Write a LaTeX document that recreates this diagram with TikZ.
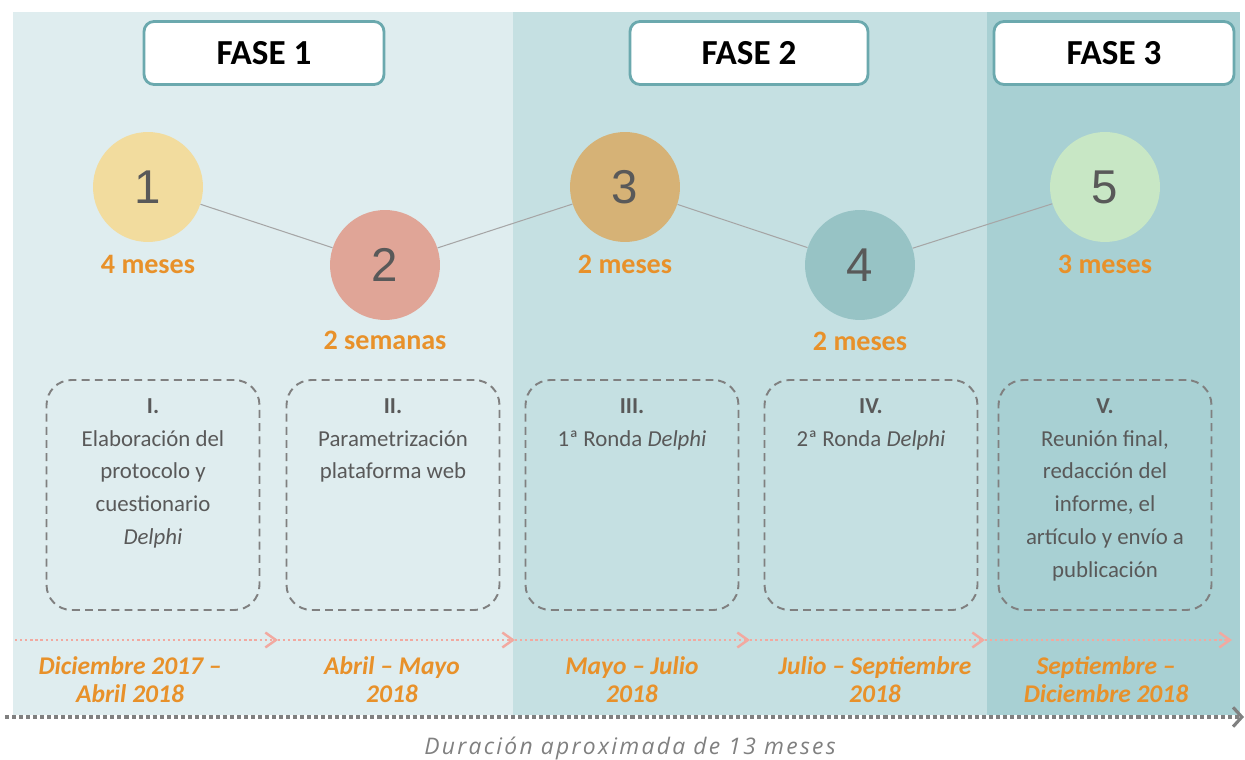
\documentclass[tikz,border=0pt]{standalone}
\usepackage{fontspec}
\setmainfont{Carlito}
\newfontfamily\durfont[LetterSpace=10]{Open Sans}
\newfontfamily\numfont{Liberation Sans}
\usetikzlibrary{arrows.meta,positioning}
\definecolor{panelone}{RGB}{223,237,239}
\definecolor{paneltwo}{RGB}{197,224,226}
\definecolor{panelthree}{RGB}{168,208,211}
\definecolor{faseborder}{RGB}{107,169,174}
\definecolor{circone}{RGB}{242,220,158}
\definecolor{circtwo}{RGB}{224,165,151}
\definecolor{circthree}{RGB}{214,178,118}
\definecolor{circfour}{RGB}{151,195,197}
\definecolor{circfive}{RGB}{200,231,197}
\definecolor{durorange}{RGB}{232,145,42}
\definecolor{textgray}{RGB}{89,89,89}
\definecolor{dashgray}{RGB}{128,128,128}
\definecolor{datepink}{RGB}{242,169,160}
\tikzstyle{fase}=[draw=faseborder,fill=white,line width=1.6pt,rounded corners=0.2cm,minimum width=4.8cm,minimum height=1.26cm,font=\fontsize{20}{24}\selectfont\bfseries]
\tikzstyle{circ}=[circle,minimum size=2.2cm,inner sep=0pt,text=textgray,font=\numfont\fontsize{27}{32}\selectfont]
\tikzstyle{dur}=[text=durorange,font=\fontsize{16}{19}\selectfont\bfseries,inner sep=0pt]
\tikzstyle{task}=[draw=dashgray,line width=1.1pt,dash pattern=on 4.5pt off 3pt,rounded corners=0.5cm,minimum width=4.26cm,minimum height=4.6cm]
\tikzstyle{tasktext}=[text=textgray,align=center,inner sep=0pt,font=\fontsize{13}{18.7}\selectfont]
\tikzstyle{date}=[text=durorange,align=center,inner sep=0pt,font=\fontsize{14.5}{16}\selectfont\bfseries\itshape]
\tikzstyle{link}=[draw=black!35,line width=0.6pt]
\tikzstyle{period}=[draw=datepink,line width=1.3pt,dash pattern=on 1.3pt off 1.6pt,-{Straight Barb[length=6pt,width=8.5pt,line width=1.4pt]}]

\begin{document}
\begin{tikzpicture}[x=0.02cm,y=-0.02cm]
    \useasboundingbox (0,0) rectangle (1245,760);

    % fondos de las fases
    \fill[panelone] (13,12) rectangle (513,715);
    \fill[paneltwo] (513,12) rectangle (987,715);
    \fill[panelthree] (987,12) rectangle (1240,715);

    \node[fase] (fase1) at (264,53) {FASE 1};
    \node[fase, minimum width=4.76cm] (fase2) at (749,53) {FASE 2};
    \node[fase] (fase3) at (1114,53) {FASE 3};

    % hitos
    \node[circ, fill=circone] (c1) at (148,187) {1};
    \node[circ, fill=circtwo] (c2) at (385,265) {2};
    \node[circ, fill=circthree] (c3) at (625,187) {3};
    \node[circ, fill=circfour] (c4) at (860,265) {4};
    \node[circ, fill=circfive] (c5) at (1105,187) {5};

    \draw[link] (c1) -- (c2);
    \draw[link] (c2) -- (c3);
    \draw[link] (c3) -- (c4);
    \draw[link] (c4) -- (c5);

    \node[dur, below=0.25cm of c1] (d1) {4 meses};
    \node[dur, below=0.2cm of c2] (d2) {2 semanas};
    \node[dur, below=0.25cm of c3] (d3) {2 meses};
    \node[dur, below=0.22cm of c4] (d4) {2 meses};
    \node[dur, below=0.25cm of c5] (d5) {3 meses};

    % tareas
    \node[task] (t1) at (153,495) {};
    \node[task] (t2) at (393,495) {};
    \node[task] (t3) at (632,495) {};
    \node[task] (t4) at (871,495) {};
    \node[task] (t5) at (1105,495) {};

    \node[tasktext, below=0.38cm of t1.north] (x1) {\textbf{I.}\\Elaboración del\\protocolo y\\cuestionario\\\textit{Delphi}};
    \node[tasktext, below=0.38cm of t2.north] (x2) {\textbf{II.}\\Parametrización\\plataforma web};
    \node[tasktext, below=0.38cm of t3.north] (x3) {\textbf{III.}\\1ª Ronda \textit{Delphi}};
    \node[tasktext, below=0.38cm of t4.north] (x4) {\textbf{IV.}\\2ª Ronda \textit{Delphi}};
    \node[tasktext, below=0.38cm of t5.north] (x5) {\textbf{V.}\\Reunión final,\\redacción del\\informe, el\\artículo y envío a\\publicación};

    % periodos
    \coordinate (p0) at (15,640);
    \coordinate (p1) at (278,640);
    \coordinate (p2) at (515,640);
    \coordinate (p3) at (750,640);
    \coordinate (p4) at (985,640);
    \coordinate (p5) at (1232,640);
    \draw[period] (p0) -- (p1);
    \draw[period] (p1) -- (p2);
    \draw[period] (p2) -- (p3);
    \draw[period] (p3) -- (p4);
    \draw[period] (p4) -- (p5);

    \node[date] (f1) at (130,680) {Diciembre 2017 –\\Abril 2018};
    \node[date] (f2) at (392,680) {Abril – Mayo\\2018};
    \node[date] (f3) at (632,680) {Mayo – Julio\\2018};
    \node[date] (f4) at (875,680) {Julio – Septiembre\\2018};
    \node[date] (f5) at (1106,680) {Septiembre –\\Diciembre 2018};

    % duracion total
    \coordinate (tstart) at (5,717);
    \coordinate (tend) at (1244,717);
    \draw[draw=black!50,line width=2.3pt,dash pattern=on 2.3pt off 1.7pt,-{Straight Barb[length=5pt,width=11pt,line width=1.8pt]}] (tstart) -- (tend);
    \node[text=black!50,font=\durfont\itshape\fontsize{13}{15}\selectfont] (total) at (630,748) {Duración aproximada de 13 meses};
\end{tikzpicture}
\end{document}
